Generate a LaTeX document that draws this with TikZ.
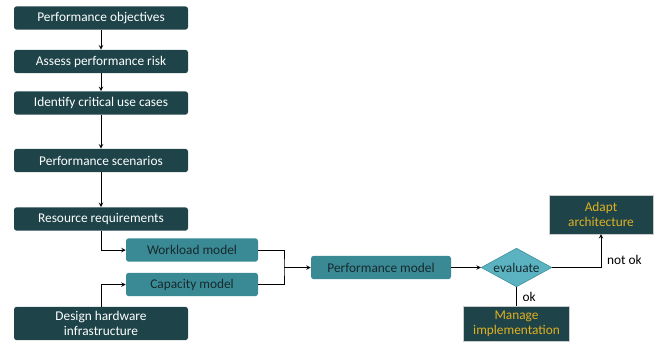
\documentclass[tikz,border=0pt]{standalone}
\usepackage{fontspec}
\setmainfont{Carlito}
\usepackage{tikz}
\usetikzlibrary{shapes, arrows, positioning}

\definecolor{deepteal}{HTML}{1E4449}
\definecolor{midteal}{HTML}{3A8A96}
\definecolor{lightteal}{HTML}{5BB3C2}
\definecolor{goldtext}{HTML}{E0B020}
\definecolor{inktext}{HTML}{17292C}

\tikzset{
    darkbox/.style={rectangle, rounded corners=2pt, fill=deepteal, text=white,
        minimum width=130.5pt, minimum height=17.5pt, inner sep=1pt, align=center},
    midbox/.style={rectangle, rounded corners=2pt, fill=midteal, text=inktext,
        minimum width=99pt, minimum height=17.5pt, inner sep=1pt, align=center},
    resultbox/.style={rectangle, fill=deepteal, draw=gray!40, line width=0.3pt, text=goldtext,
        minimum height=27pt, inner sep=1pt, align=center},
    decision/.style={diamond, fill=lightteal, draw=midteal, line width=0.4pt, text=inktext,
        aspect=1.82, inner sep=0pt, minimum width=53pt, minimum height=29pt},
    link/.style={draw=black, line width=0.5pt}
}

\begin{document}
\begin{tikzpicture}[x=0.75pt, y=-0.75pt, >=stealth, font=\fontsize{10}{11.5}\selectfont]
                \useasboundingbox (0,0) rectangle (655,347);

                % left column
                \node[darkbox] (objectives) at (101,18) {Performance objectives};
                \node[darkbox] (risk) at (101,61.5) {Assess performance risk};
                \node[darkbox] (usecases) at (101,103) {Identify critical use cases};
                \node[darkbox] (scenarios) at (101,160.5) {Performance scenarios};
                \node[darkbox] (resources) at (101,219) {Resource requirements};
                \node[darkbox, minimum height=25pt] (hardware) at (101,323.5) {Design hardware\\infrastructure};

                % models
                \node[midbox] (workload) at (192,250) {Workload model};
                \node[midbox] (capacity) at (192,284.5) {Capacity model};
                \node[midbox, minimum width=105pt] (perfmodel) at (381,267.5) {Performance model};
                \node[decision] (evaluate) at (516.5,267.5) {evaluate};

                % outcomes
                \node[resultbox, minimum width=78pt, minimum height=29pt] (adapt) at (601,214.5) {Adapt\\architecture};
                \node[resultbox, minimum width=79.5pt, minimum height=26pt] (manage) at (516.5,323.5) {Manage\\implementation};

                \coordinate (merge) at (284,267.5);

                \draw[->, link] (objectives) -- (risk);
                \draw[->, link] (risk) -- (usecases);
                \draw[->, link] (usecases) -- (scenarios);
                \draw[->, link] (scenarios) -- (resources);
                \draw[->, link] (resources.south) |- (workload.west);
                \draw[->, link] (hardware.north) |- (capacity.west);
                \draw[link] (workload.east) -| (merge) |- (capacity.east);
                \draw[->, link] (merge) -- (perfmodel.west);
                \draw[->, link] (perfmodel.east) -- (evaluate.west);
                \draw[->, link] (evaluate.east) -| (adapt.south) node[pos=0.62, right=1pt] {not ok};
                \draw[link] (evaluate.south) -- (manage.north) node[midway, right=1pt] {ok};
            \end{tikzpicture}
\end{document}
